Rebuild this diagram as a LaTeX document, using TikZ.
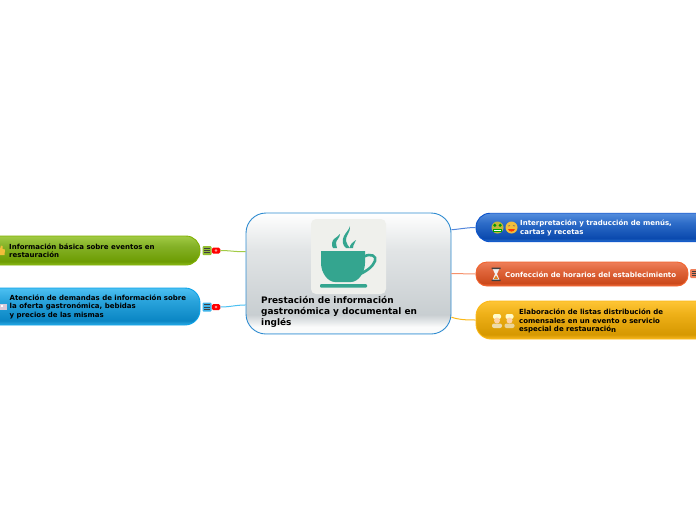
\documentclass[tikz,border=0pt]{standalone}
\usepackage{fontspec}
\setmainfont{DejaVu Sans}[BoldFont={DejaVu Sans Bold}]
\newcommand{\glossdef}[5]{%
  \pgfdeclareverticalshading{#1}{100bp}{color(0bp)=(#4); color(25bp)=(#4); color(31bp)=(#3); color(58bp)=(#5); color(75bp)=(#2); color(100bp)=(#2)}}
\definecolor{gT}{HTML}{A2CB45}\definecolor{gM}{HTML}{6D9C02}\definecolor{gB}{HTML}{8FBE20}\definecolor{gH}{HTML}{85B228}\definecolor{gE}{HTML}{7FB000}
\definecolor{cT}{HTML}{4CC0F2}\definecolor{cM}{HTML}{0A86C4}\definecolor{cB}{HTML}{2FAAE4}\definecolor{cH}{HTML}{2AA4DC}\definecolor{cE}{HTML}{0AA2E8}
\definecolor{bT}{HTML}{548DDD}\definecolor{bM}{HTML}{0A49AE}\definecolor{bB}{HTML}{2F77D2}\definecolor{bH}{HTML}{2D6CC8}\definecolor{bE}{HTML}{0A52CC}
\definecolor{oT}{HTML}{EE7F5A}\definecolor{oM}{HTML}{CC4A1C}\definecolor{oB}{HTML}{EE6C3C}\definecolor{oH}{HTML}{E0663C}\definecolor{oE}{HTML}{F2622C}
\definecolor{yT}{HTML}{FEC535}\definecolor{yM}{HTML}{D69800}\definecolor{yB}{HTML}{F8B820}\definecolor{yH}{HTML}{EEB018}\definecolor{yE}{HTML}{FBB818}
\definecolor{mT}{HTML}{FFFFFF}\definecolor{mM}{HTML}{C8CED1}\definecolor{mB}{HTML}{FAFBFB}\definecolor{mH}{HTML}{E2E5E6}
\definecolor{mE}{HTML}{2E8BD0}\definecolor{cupc}{HTML}{34A58F}\definecolor{imgbg}{HTML}{EFF0EC}
\definecolor{faceY}{HTML}{F2BE3A}\definecolor{faceG}{HTML}{C2B83A}
\glossdef{glossg}{gT}{gM}{gB}{gH}
\glossdef{glossc}{cT}{cM}{cB}{cH}
\glossdef{glossb}{bT}{bM}{bB}{bH}
\glossdef{glosso}{oT}{oM}{oB}{oH}
\glossdef{glossy}{yT}{yM}{yB}{yH}
\pgfdeclareverticalshading{glossm}{100bp}{color(0bp)=(mB); color(25bp)=(mB); color(28bp)=(mB); color(33bp)=(mM); color(60bp)=(mH); color(75bp)=(mT); color(100bp)=(mT)}
\tikzset{
  topicnode/.style={line width=0.9pt,inner sep=0pt},
  txtd/.style={inner sep=0pt,anchor=west,align=left,text=black,font=\fontsize{7}{8.4}\selectfont\bfseries},
  txtw/.style={inner sep=0pt,anchor=west,align=left,text=white,font=\fontsize{7}{8.4}\selectfont\bfseries},
  link/.style={line width=1pt},
  badge/.style={fill=red,rounded corners=1.5pt,minimum width=8.5pt,minimum height=6pt,inner sep=0pt},
  menubox/.style={rounded corners=1pt,minimum width=9pt,minimum height=9pt,inner sep=0pt},
}
\newcommand{\menulines}[2]{%
  \draw[line width=0.8pt,black!75] (#1-2.8,#2-2.2) -- (#1+2.8,#2-2.2) (#1-2.8,#2) -- (#1+2.8,#2) (#1-2.8,#2+2.2) -- (#1+2.8,#2+2.2);}
\begin{document}
\begin{tikzpicture}[x=1pt,y=-1pt]
\useasboundingbox (0,0) rectangle (696,520);
\clip (0,0) rectangle (696,520);
% main
\node[draw=mE,line width=0.9pt,rounded corners=20pt,shading=glossm,minimum width=205pt,minimum height=121pt,inner sep=0pt] (main) at (348.5,273.5) {};
\draw[mE!50!white,line width=1.2pt] (266,333.4) -- (431,333.4);
\fill[imgbg,rounded corners=5pt] (311,219) rectangle (386,294);
% cup
\fill[cupc] (321,251) -- (365,251) -- (365,263) .. controls (365,273) and (358,282) .. (351,282) -- (335,282) .. controls (328,282) and (321,273) .. (321,263) -- cycle;
\draw[cupc,line width=2.6pt] (364,256.5) .. controls (371,253) and (377,256) .. (375,261) .. controls (373,267) and (365,272) .. (358,275);
\fill[cupc,rounded corners=1pt] (320,284) rectangle (367,287.5);
\fill[cupc] (350,226) .. controls (351,232) and (345,236) .. (346,241) .. controls (346,244) and (349,246) .. (350,248) -- (346,248) .. controls (342,245) and (342,240) .. (344,236) .. controls (346,232) and (349,230) .. (350,226) -- cycle;
\fill[cupc] (340,234) .. controls (340,238) and (336,240) .. (336,243) .. controls (336,245) and (337,247) .. (337,248) -- (333,248) .. controls (331,245) and (332,241) .. (334,239) .. controls (336,237) and (339,236) .. (340,234) -- cycle;
\fill[cupc] (356,240) .. controls (356,242) and (353,244) .. (353,248) -- (350,248) .. controls (349,245) and (353,242) .. (356,240) -- cycle;
\node[inner sep=0pt,anchor=north west,align=left,text=black,font=\fontsize{8.95}{11}\selectfont\bfseries] (maintext) at (261,295.8) {Prestación de información\\gastronómica y documental en\\inglés};
% topics
\node[topicnode,draw=gE,rounded corners=14pt,shading=glossg,minimum width=260pt,minimum height=29pt] (t1) at (70,250.5) {};
\node[topicnode,draw=cE,rounded corners=15pt,shading=glossc,minimum width=260pt,minimum height=37pt] (t2) at (70,306.5) {};
\node[topicnode,draw=bE,rounded corners=14pt,shading=glossb,minimum width=260pt,minimum height=28.5pt] (t3) at (606,227.5) {};
\node[topicnode,draw=oE,rounded corners=11pt,shading=glosso,minimum width=212pt,minimum height=24pt] (t4) at (582,274) {};
\node[topicnode,draw=yE,rounded corners=15pt,shading=glossy,minimum width=260pt,minimum height=38pt] (t5) at (606,320) {};
% markers
\node[menubox,fill=gT!70!gM] (m1) at (207,250.5) {};\menulines{207}{250.5}
\node[badge] (b1) at (216,250.5) {};\fill[white!60!red] (216,250.5) circle (1.3pt);
\node[menubox,fill=cT!80!cM] (m2) at (207,307) {};\menulines{207}{307}
\node[badge] (b2) at (216,307) {};\fill[white!60!red] (216,307) circle (1.3pt);
\node[menubox,fill=oT] (m4) at (694.5,273.5) {};\menulines{694.5}{273.5}
% connectors
\draw[link,gT] (main.168) .. controls (236,252) and (230,250.5) .. (b1.east);
\draw[link,cT] (main.197) .. controls (236,305) and (230,307) .. (b2.east);
\draw[link,bE!70!white] (main.23) .. controls (460,229) and (468,227.5) .. (t3.west);
\draw[link,oE!70!white] (main.0) -- (t4.west);
\draw[link,yE] (main.-23.5) .. controls (460,320) and (468,320) .. (t5.west);
% labels
\node[txtd] (l1) at (9,250.8) {Información básica sobre eventos en\\restauración};
\node[txtd] (l2) at (9.5,306.8) {Atención de demandas de información sobre\\la oferta gastronómica, bebidas\\y precios de las mismas};
\node[txtw] (l3) at (520,228) {Interpretación y traducción de menús,\\cartas y recetas};
\node[txtw] (l4) at (505,274.3) {Confección de horarios del establecimiento};
\node[txtd] (l5) at (519,320.8) {\raisebox{0.9pt}{Elaboración de listas d}istribución de\\comensales en un evento o servicio\\especial de restauració\raisebox{-1.2pt}{n}};
% icons
\fill[faceY] (-2,255) -- (-2,249) -- (0,249) -- (1,245.5) -- (2.5,246) -- (2.5,249) -- (5,249.5) -- (4.5,255) -- cycle;
\fill[gray!60!violet!30!white] (0,304) rectangle (6.5,309.5);
\fill[white] (1,305) rectangle (3,306.5);
% money face
\fill[faceG] (497.5,227.5) circle (6pt);
\fill[green!60!black] (494.8,225.3) circle (1.7pt) (500.2,225.3) circle (1.7pt);
\fill[green!65!black] (493,228.7) rectangle (502,232);
\fill[white] (494,229.8) rectangle (501,231);
% smile face
\fill[faceY] (511.5,227.5) circle (6pt);
\draw[black!60,line width=0.6pt] (508,226) -- (510,225.6) (513,225.6) -- (515,226);
\fill[red!55!orange] (508,229) .. controls (509,232.5) and (514,232.5) .. (515,229) -- cycle;
% hourglass
\fill[white!90!gray] (492.5,268.5) -- (499.5,268.5) -- (497,274) -- (499.5,280) -- (492.5,280) -- (495,274) -- cycle;
\fill[orange!50!brown] (493.8,278.8) -- (496,275.5) -- (498.2,278.8) -- cycle;
\fill[black!75] (491.5,267.5) rectangle (500.5,269) (491.5,279.5) rectangle (500.5,281);
% chefs
\fill[white!80!yellow,rounded corners=2pt] (493,314) rectangle (501,319);
\fill[orange!35!white] (497,320.5) circle (3pt);
\fill[yellow!30!brown!40!white,rounded corners=2pt] (492,323.5) rectangle (502,328);
\fill[white!80!yellow,rounded corners=2pt] (505.5,314) rectangle (513.5,319);
\fill[orange!35!white] (509.5,320.5) circle (3pt);
\fill[yellow!30!brown!50!white,rounded corners=2pt] (504.5,323.5) rectangle (514.5,328);
\end{tikzpicture}
\end{document}
